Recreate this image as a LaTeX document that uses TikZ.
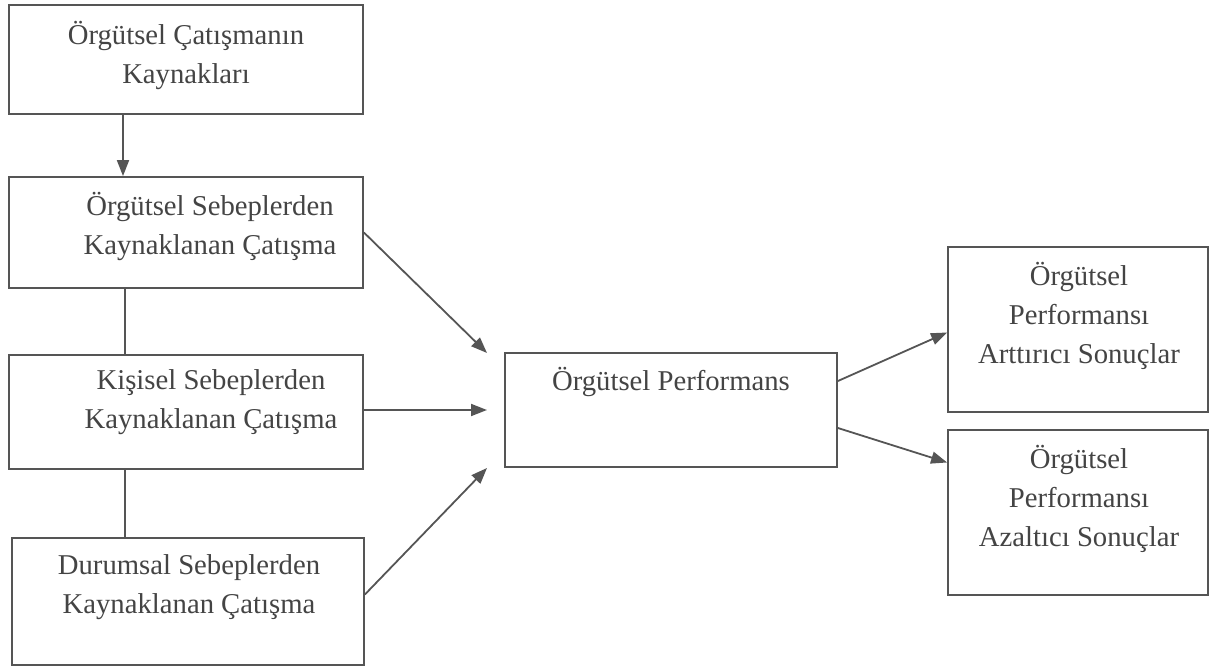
\documentclass[tikz,border=0pt]{standalone}
\usepackage{fontspec}
\setmainfont{Liberation Serif}
\usetikzlibrary{arrows.meta}
\definecolor{linegray}{HTML}{555555}
\definecolor{textgray}{HTML}{444444}
\tikzset{
  box/.style={draw=linegray, line width=1.8pt, inner sep=0pt, fill=white},
  label/.style={text=textgray, align=center, inner sep=0pt,
    font=\fontsize{28.7}{39}\selectfont},
  link/.style={draw=linegray, line width=1.8pt},
  arr/.style={link, -{Triangle[length=16pt,width=12pt]}},
}
\begin{document}
\begin{tikzpicture}[x=1pt,y=-1pt]
\useasboundingbox (0,0) rectangle (1210,668);

% source boxes on the left
\node[box, minimum width=354pt, minimum height=109pt] (b1) at (186,59.5) {};
\node[box, minimum width=354pt, minimum height=111pt] (b2) at (186,232.5) {};
\node[box, minimum width=354pt, minimum height=114pt] (b3) at (186,412) {};
\node[box, minimum width=352pt, minimum height=127pt] (b4) at (188,601.5) {};

% central box and outcome boxes
\node[box, minimum width=332pt, minimum height=114pt] (m) at (671,410) {};
\node[box, minimum width=260pt, minimum height=165pt] (r1) at (1078,329.5) {};
\node[box, minimum width=260pt, minimum height=165pt] (r2) at (1078,512.5) {};

% texts
\node[label] (t1) at (186,55) {Örgütsel Çatışmanın\\Kaynakları};
\node[label] (t2) at (210,226) {Örgütsel Sebeplerden\\Kaynaklanan Çatışma};
\node[label] (t3) at (211,402) {Kişisel Sebeplerden\\Kaynaklanan Çatışma};
\node[label] (t4) at (189,587) {Durumsal Sebeplerden\\Kaynaklanan Çatışma};
\node[label] (tm) at (671,382) {Örgütsel Performans};
\node[label] (tr1) at (1079,316) {Örgütsel\\Performansı\\Arttırıcı Sonuçlar};
\node[label] (tr2) at (1079,499) {Örgütsel\\Performansı\\Azaltıcı Sonuçlar};

% free arrow ends in front of the central box
\coordinate (e2) at (487,353);
\coordinate (e3) at (487,410);
\coordinate (e4) at (487,468);

% connectors
\draw[arr] ([xshift=-63pt]b1.south) -- ([xshift=-63pt]b2.north);
\draw[link] ([xshift=-61pt]b2.south) -- ([xshift=-61pt]b3.north);
\draw[link] ([xshift=-61pt]b3.south) -- ([xshift=-63pt]b4.north);
\draw[arr] (b2.east) -- (e2);
\draw[arr] ([yshift=2pt]b3.east) -- (e3);
\draw[arr] ([yshift=7pt]b4.east) -- (e4);
\draw[arr] ([yshift=29pt]m.east) -- ([yshift=-3pt]r1.west);
\draw[arr] ([yshift=-18pt]m.east) -- ([yshift=50pt]r2.west);
\end{tikzpicture}
\end{document}
